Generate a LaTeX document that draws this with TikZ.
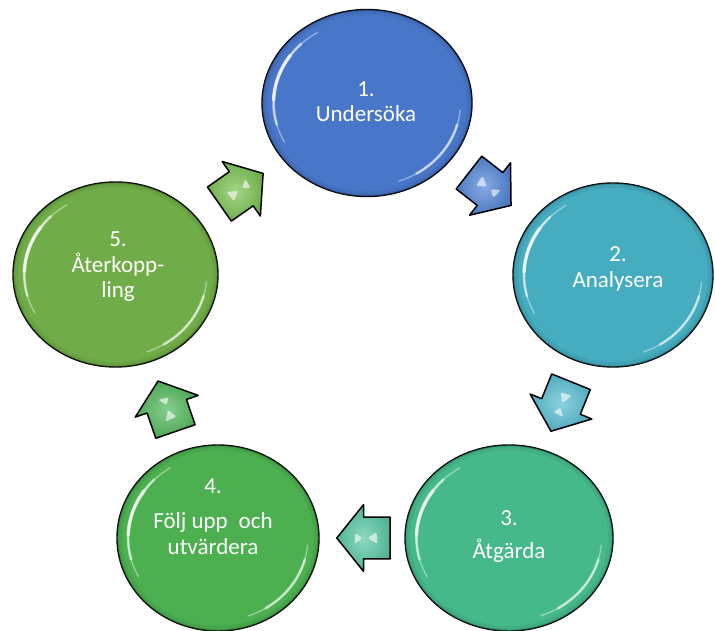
\documentclass[tikz,border=0pt]{standalone}
\usepackage{fontspec}
\setmainfont{Carlito}
\usetikzlibrary{shapes.geometric,calc}
\definecolor{cA}{RGB}{72,118,200}
\definecolor{cB}{RGB}{70,172,192}
\definecolor{cC}{RGB}{70,185,138}
\definecolor{cD}{RGB}{76,176,80}
\definecolor{cE}{RGB}{112,173,72}
\definecolor{aA}{RGB}{85,135,215}
\definecolor{aB}{RGB}{90,190,210}
\definecolor{aC}{RGB}{90,200,165}
\definecolor{aD}{RGB}{85,185,95}
\definecolor{aE}{RGB}{125,195,85}
\tikzset{
  bubble/.style={ellipse, draw=black, line width=1.4pt, inner sep=0pt},
  lbl/.style={text=white, align=center, inner sep=0pt, font=\fontsize{23}{26}\selectfont},
  hl/.style={draw=white, line cap=round},
  barrow/.pic={
    \shadedraw[inner color=#1!70!white, outer color=#1!90!black, draw=black,
      line width=1.5pt, line join=round]
      (26.7,0) -- (0,33.3) -- (0,20.8) -- (-26.7,20.8) -- (-26.7,-20.8)
      -- (0,-20.8) -- (0,-33.3) -- cycle;
    \fill[white, opacity=.6, rounded corners=1.5pt] (1,0) -- (9,-6) -- (8,5) -- cycle;
    \fill[white, opacity=.6, rounded corners=1.5pt] (-4,0) -- (-14,-6) -- (-13,6) -- cycle;
  }
}
\newcommand\mygloss[4]{%
  \begin{scope}
    \clip (#1.center) ellipse [x radius=#2pt, y radius=#3pt];
    \draw[line width=10pt, draw=#4!70!black, opacity=.18] (#1.center) ellipse [x radius=#2pt, y radius=#3pt];
    \draw[line width=4pt, draw=#4!60!black, opacity=.25] (#1.center) ellipse [x radius=#2pt, y radius=#3pt];
  \end{scope}
  \draw[hl, line width=1.4pt, opacity=.4] ([shift={(122:0.89*#2pt and 0.89*#3pt)}]#1.center)
     arc[start angle=122, end angle=208, x radius=0.89*#2pt, y radius=0.89*#3pt];
  \draw[hl, line width=2.6pt, opacity=.55] ([shift={(135:0.89*#2pt and 0.89*#3pt)}]#1.center)
     arc[start angle=135, end angle=195, x radius=0.89*#2pt, y radius=0.89*#3pt];
  \draw[hl, line width=3.4pt, opacity=.7] ([shift={(145:0.89*#2pt and 0.89*#3pt)}]#1.center)
     arc[start angle=145, end angle=178, x radius=0.89*#2pt, y radius=0.89*#3pt];
  \draw[hl, line width=1.4pt, opacity=.4] ([shift={(-5:0.89*#2pt and 0.89*#3pt)}]#1.center)
     arc[start angle=-5, end angle=-70, x radius=0.89*#2pt, y radius=0.89*#3pt];
  \draw[hl, line width=2.6pt, opacity=.55] ([shift={(-15:0.89*#2pt and 0.89*#3pt)}]#1.center)
     arc[start angle=-15, end angle=-58, x radius=0.89*#2pt, y radius=0.89*#3pt];
}
\begin{document}
\begin{tikzpicture}[x=1pt,y=-1pt]
\useasboundingbox[fill=white] (0,0) rectangle (715,631);
% circles
\node[bubble, minimum width=210pt, minimum height=187pt, fill=cA] (c1) at (367,103) {};
\node[bubble, minimum width=200pt, minimum height=184pt, fill=cB] (c2) at (613,275) {};
\node[bubble, minimum width=208pt, minimum height=186pt, fill=cC] (c3) at (509,538) {};
\node[bubble, minimum width=202pt, minimum height=186pt, fill=cD] (c4) at (218,538) {};
\node[bubble, minimum width=205pt, minimum height=185pt, fill=cE] (c5) at (115.5,274.5) {};
\mygloss{c1}{105}{93.5}{cA}
\mygloss{c2}{100}{92}{cB}
\mygloss{c3}{104}{93}{cC}
\mygloss{c4}{101}{93}{cD}
\mygloss{c5}{102.5}{92.5}{cE}
% labels
\node[lbl] (t1) at ([shift={(-1,-1.5)}]c1.center) {1.\\[-1pt]Undersöka};
\node[lbl] (t2) at ([shift={(5,-6)}]c2.center) {2.\\Analysera};
\node[lbl] (t3) at ([shift={(0,-1)}]c3.center) {3.\\[7pt]Åtgärda};
\node[lbl] (t4) at ([shift={(-5,-21.5)}]c4.center) {4.\\[9pt]Följ upp\hspace{0.25em} och\\utvärdera};
\node[lbl] (t5) at ([shift={(2.5,-7.5)}]c5.center) {5.\\Återkopp-\\[-1pt]ling};
% block arrows
\pic[rotate=-38] (a12) at ($(c1)!0.5!(c2)$) {barrow=aA};
\pic[rotate=-112] (a23) at ($(c2)!0.5!(c3)$) {barrow=aB};
\pic[rotate=180] (a34) at ($(c3)!0.5!(c4)$) {barrow=aC};
\pic[rotate=109] (a45) at ($(c4)!0.5!(c5)$) {barrow=aD};
\pic[rotate=35] (a51) at ($(c5)!0.5!(c1)$) {barrow=aE};
\end{tikzpicture}
\end{document}
